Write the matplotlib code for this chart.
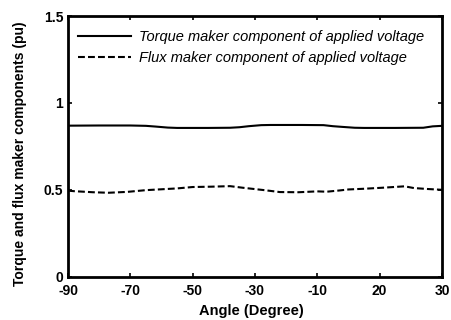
import numpy as np
import matplotlib
matplotlib.use("Agg")
import matplotlib.pyplot as plt

# angoli (gradi) e componenti (pu)
angle_torque = [-90, -80, -70, -65, -62, -58, -55, -45, -38, -35, -32, -28, -25,
                -15, -8, -5, -2, 2, 5, 15, 24, 27, 30]
torque = [0.869, 0.870, 0.870, 0.868, 0.864, 0.858, 0.856, 0.856, 0.857, 0.860,
          0.866, 0.872, 0.873, 0.873, 0.872, 0.866, 0.862, 0.857, 0.856, 0.856,
          0.857, 0.865, 0.868]

angle_flux = [-90, -88, -82, -77, -71, -65, -60, -55, -50, -44, -38, -34, -30,
              -27, -22, -16, -10, -7, -3, 0, 5, 11, 18, 21, 25, 28, 30]
flux = [0.495, 0.492, 0.486, 0.483, 0.488, 0.498, 0.503, 0.508, 0.516, 0.518,
        0.521, 0.512, 0.504, 0.498, 0.487, 0.486, 0.491, 0.489, 0.496, 0.502,
        0.506, 0.512, 0.520, 0.510, 0.505, 0.502, 0.500]

xticks = [-90, -70, -50, -30, -10, 10, 30]
xticklabels = ['-90', '-70', '-50', '-30', '-10', '20', '30']
yticks = [0, 0.5, 1, 1.5]
yticklabels = ['0', '0.5', '1', '1.5']

plt.rcParams['font.family'] = ['Liberation Sans', 'DejaVu Sans']

fig = plt.figure(figsize=(4.51, 3.2), dpi=100)
ax = fig.add_axes([0.1508, 0.1353, 0.8292, 0.8147])

ax.plot(angle_torque, torque, color='black', linestyle='-', linewidth=1.5,
        label='Torque maker component of applied voltage')
ax.plot(angle_flux, flux, color='black', linestyle=(0, (3.3, 1.5)), linewidth=1.5,
        label='Flux maker component of applied voltage')

ax.set_xlim(-90, 30)
ax.set_ylim(0, 1.5)
ax.set_xticks(xticks)
ax.set_xticklabels(xticklabels, fontweight='bold', fontsize=10)
ax.set_yticks(yticks)
ax.set_yticklabels(yticklabels, fontweight='bold', fontsize=10)
ax.tick_params(direction='in', length=3, width=1.2, top=True, right=True, pad=3.5)
ax.tick_params(axis='x', pad=5.5)
for s in ax.spines.values():
    s.set_linewidth(2)

ax.set_xlabel('Angle (Degree)', fontweight='bold', fontsize=10.5)
ax.xaxis.set_label_coords(0.49, -0.103)
ax.set_ylabel('Torque and flux maker components (pu)', fontweight='bold',
              fontsize=10)
ax.yaxis.set_label_coords(-0.11, 0.47)

leg = ax.legend(loc='upper left', bbox_to_anchor=(0.0, 0.985), frameon=False,
                fontsize=10.5, handlelength=3.6, handletextpad=0.55,
                borderaxespad=0.3, labelspacing=0.45)
for t in leg.get_texts():
    t.set_fontstyle('italic')

fig.savefig('out.png', dpi=100)
